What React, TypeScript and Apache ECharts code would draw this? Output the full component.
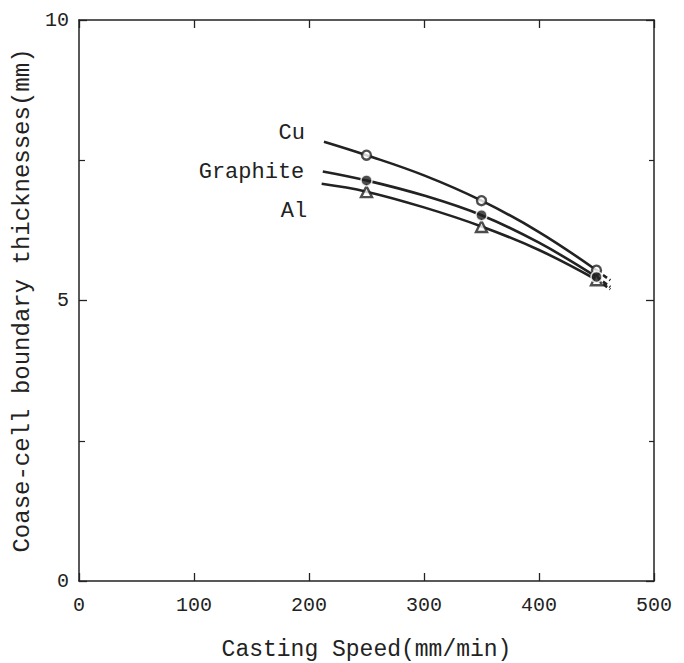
import React, { useEffect, useRef } from "react";
import * as echarts from "echarts";

const speeds = [250, 350, 450];
const cuValues = [7.59, 6.78, 5.54];
const graphiteValues = [7.14, 6.52, 5.42];
const alValues = [6.94, 6.32, 5.37];

// fitted curves (solid part)
const cuCurve: [number, number][] = [[213, 7.83], [250, 7.59], [300, 7.23], [350, 6.78], [400, 6.22], [450, 5.54]];
const graphiteCurve: [number, number][] = [[212, 7.3], [250, 7.14], [300, 6.87], [350, 6.52], [400, 6.03], [450, 5.42]];
const alCurve: [number, number][] = [[211, 7.08], [250, 6.94], [300, 6.66], [350, 6.32], [400, 5.9], [450, 5.37]];
// dashed extensions
const cuExt: [number, number][] = [[450, 5.54], [462, 5.36]];
const graphiteExt: [number, number][] = [[450, 5.42], [462, 5.24]];
const alExt: [number, number][] = [[450, 5.37], [462, 5.2]];

// curve name labels (data coordinates of label centres)
const cuLabelAt: [number, number] = [185, 7.97];
const graphiteLabelAt: [number, number] = [150, 7.29];
const alLabelAt: [number, number] = [187, 6.58];

const xTicks = [0, 100, 200, 300, 400, 500];
const yTicks = [0, 5, 10];

const FONT = "Liberation Mono";
const INK = "#222";

export default function App() {
  const ref = useRef<HTMLDivElement>(null);
  useEffect(() => {
    const chart = echarts.init(ref.current!, null, { renderer: "svg" });
    const curve = (name: string, data: [number, number][], labelAt: [number, number]) => ({
      type: "line",
      name,
      data,
      smooth: 0.4,
      showSymbol: false,
      symbol: "none",
      lineStyle: { color: INK, width: 2.6 },
      z: 2,
      markPoint: {
        symbol: "circle",
        symbolSize: 0,
        silent: true,
        label: { show: true, position: "inside", formatter: name, fontFamily: FONT, fontSize: 22, color: INK },
        data: [{ coord: labelAt, name }],
      },
    });
    const ext = (data: [number, number][]) => ({
      type: "line",
      data,
      symbol: "none",
      lineStyle: { color: INK, width: 2.6, type: [5, 3] },
      z: 2,
    });
    const axisCommon = {
      axisLine: { show: true, onZero: false, lineStyle: { color: INK, width: 1.5 } },
      axisTick: { show: true, inside: true, length: 8, lineStyle: { color: INK, width: 1.3 } },
      splitLine: { show: false },
    };
    const tickFont = { fontFamily: FONT, fontSize: 20, color: INK };
    chart.setOption({
      animation: false,
      backgroundColor: "#fff",
      grid: { left: 79, right: 30, top: 20, bottom: 82, outerBoundsMode: "none", containLabel: false },
      xAxis: [
        {
          type: "value",
          min: 0,
          max: 500,
          interval: 100,
          name: "Casting Speed(mm/min)",
          nameLocation: "middle",
          nameGap: 57,
          nameTextStyle: { fontFamily: FONT, fontSize: 23, color: INK },
          axisLabel: { ...tickFont, margin: 14, formatter: (v: number) => (xTicks.includes(v) ? String(v) : "") },
          ...axisCommon,
        },
        {
          type: "value",
          position: "top",
          min: 0,
          max: 500,
          interval: 100,
          axisLabel: { show: false },
          ...axisCommon,
        },
      ],
      yAxis: [
        {
          type: "value",
          min: 0,
          max: 10,
          interval: 5,
          name: "Coase-cell boundary thicknesses(mm)",
          nameLocation: "middle",
          nameGap: 45,
          nameTextStyle: { fontFamily: FONT, fontSize: 24, color: INK },
          axisLabel: { ...tickFont, margin: 10, formatter: (v: number) => (yTicks.includes(v) ? String(v) : "") },
          minorTick: { show: true, splitNumber: 2, length: 6, lineStyle: { color: INK, width: 1.2 } },
          ...axisCommon,
        },
        {
          type: "value",
          position: "right",
          min: 0,
          max: 10,
          interval: 5,
          axisLabel: { show: false },
          minorTick: { show: true, splitNumber: 2, length: 5, lineStyle: { color: INK, width: 1.2 } },
          ...axisCommon,
        },
      ],
      series: [
        curve("Cu", cuCurve, cuLabelAt),
        curve("Graphite", graphiteCurve, graphiteLabelAt),
        curve("Al", alCurve, alLabelAt),
        ext(cuExt),
        ext(graphiteExt),
        ext(alExt),
        {
          type: "scatter",
          data: speeds.map((s, i) => [s, cuValues[i]]),
          symbol: "circle",
          symbolSize: 9,
          itemStyle: { color: "#fff", borderColor: INK, borderWidth: 2.4 },
          z: 5,
        },
        {
          type: "scatter",
          data: speeds.map((s, i) => [s, graphiteValues[i]]),
          symbol: "circle",
          symbolSize: 11,
          itemStyle: { color: INK, borderColor: "#fff", borderWidth: 1.5 },
          z: 5,
        },
        {
          type: "scatter",
          data: speeds.map((s, i) => [s, alValues[i]]),
          symbol: "triangle",
          symbolSize: 11,
          itemStyle: { color: "#fff", borderColor: INK, borderWidth: 2.4 },
          z: 4,
        },
      ],
    });
    return () => chart.dispose();
  }, []);
  return <div ref={ref} style={{ width: 684, height: 663, position: "absolute", left: 0, top: 0 }} />;
}
